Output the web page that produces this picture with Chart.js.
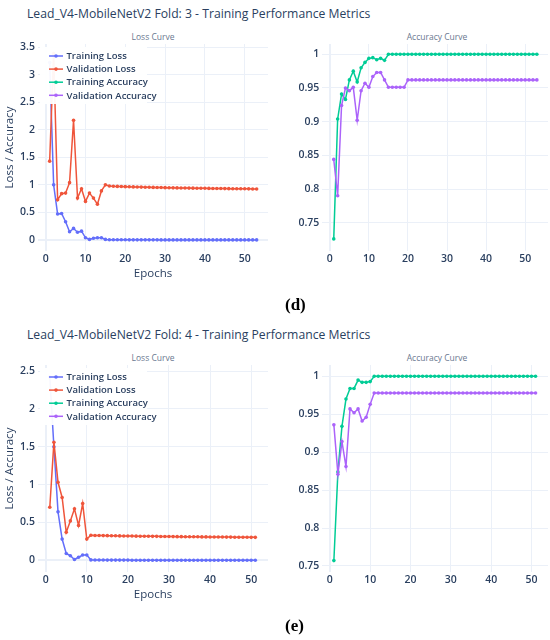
<!DOCTYPE html>
<html>
<head>
<meta charset="utf-8">
<script src="https://cdn.jsdelivr.net/npm/chart.js@4"></script>
<style>
html, body { margin: 0; padding: 0; background: #fff; overflow: hidden; width: 550px; height: 640px; }
.block { position: absolute; left: 0; width: 550px; height: 320px; }
.block canvas { position: absolute; top: 0; }
.title { position: absolute; left: 27px; top: 5px; font: 12.2px "Open Sans"; color: #2a3f5f; white-space: nowrap; line-height: 18px; }
.sub { position: absolute; top: 31px; font: 8.5px "Open Sans"; color: #6a7890; transform: translateX(-50%); line-height: 12px; white-space: nowrap; }
.tag { position: absolute; left: 285px; font: bold 17px "Liberation Serif"; color: #000; line-height: 20px; }
</style>
</head>
<body>
<div class="block" style="top:0">
  <div class="title">Lead_V4-MobileNetV2 Fold: 3 - Training Performance Metrics</div>
  <div class="sub" style="left:153px">Loss Curve</div>
  <div class="sub" style="left:437px">Accuracy Curve</div>
  <canvas id="loss3" width="275" height="300" style="left:0"></canvas>
  <canvas id="acc3" width="277" height="300" style="left:275px"></canvas>
  <div class="tag" style="top:295px">(d)</div>
</div>
<div class="block" style="top:321px">
  <div class="title">Lead_V4-MobileNetV2 Fold: 4 - Training Performance Metrics</div>
  <div class="sub" style="left:153px">Loss Curve</div>
  <div class="sub" style="left:437px">Accuracy Curve</div>
  <canvas id="loss4" width="275" height="300" style="left:0"></canvas>
  <canvas id="acc4" width="277" height="300" style="left:275px"></canvas>
  <div class="tag" style="top:295px">(e)</div>
</div>
<script>
// series names / colours shared by both folds
const seriesNames = ["Training Loss", "Validation Loss", "Training Accuracy", "Validation Accuracy"];
const seriesColors = ["#636efa", "#ef553b", "#00cc96", "#ab63fa"];

// Fold 3 (53 epochs)
const trainLoss3 = [
  3.22, 1.00, 0.47, 0.48, 0.33, 0.15, 0.21, 0.14, 0.16, 0.04,
  0.01, 0.03, 0.04, 0.04, 0.010, 0.005, 0.004, 0.003, 0.003, 0.003,
  0.002, 0.002, 0.002, 0.002, 0.002, 0.002, 0.002, 0.002, 0.001, 0.001,
  0.001, 0.001, 0.001, 0.001, 0.001, 0.001, 0.001, 0.001, 0.001, 0.001,
  0.001, 0.001, 0.001, 0.001, 0.001, 0.001, 0.001, 0.001, 0.001, 0.001,
  0.001, 0.001, 0.001
];
const valLoss3 = [
  1.43, 3.38, 0.73, 0.84, 0.85, 1.04, 2.17, 0.76, 0.93, 0.70,
  0.85, 0.76, 0.65, 0.89, 1.00, 0.980, 0.975, 0.972, 0.969, 0.967,
  0.965, 0.963, 0.961, 0.959, 0.957, 0.956, 0.954, 0.952, 0.951, 0.949,
  0.948, 0.946, 0.945, 0.944, 0.942, 0.941, 0.940, 0.939, 0.938, 0.937,
  0.936, 0.935, 0.934, 0.933, 0.932, 0.931, 0.930, 0.930, 0.929, 0.928,
  0.927, 0.926, 0.925
];
const trainAcc3 = [
  0.726, 0.904, 0.941, 0.933, 0.962, 0.975, 0.959, 0.980, 0.988, 0.994,
  0.995, 0.992, 0.994, 0.991, 1, 1, 1, 1, 1, 1,
  1, 1, 1, 1, 1, 1, 1, 1, 1, 1,
  1, 1, 1, 1, 1, 1, 1, 1, 1, 1,
  1, 1, 1, 1, 1, 1, 1, 1, 1, 1,
  1, 1, 1
];
const valAcc3 = [
  0.844, 0.790, 0.924, 0.950, 0.946, 0.951, 0.902, 0.946, 0.957, 0.951,
  0.967, 0.973, 0.973, 0.962, 0.951, 0.951, 0.951, 0.951, 0.951, 0.962,
  0.962, 0.962, 0.962, 0.962, 0.962, 0.962, 0.962, 0.962, 0.962, 0.962,
  0.962, 0.962, 0.962, 0.962, 0.962, 0.962, 0.962, 0.962, 0.962, 0.962,
  0.962, 0.962, 0.962, 0.962, 0.962, 0.962, 0.962, 0.962, 0.962, 0.962,
  0.962, 0.962, 0.962
];

// Fold 4 (51 epochs)
const trainLoss4 = [
  2.42, 1.50, 0.64, 0.28, 0.09, 0.06, 0.01, 0.04, 0.07, 0.07,
  0.005, 0.004, 0.003, 0.003, 0.002, 0.002, 0.002, 0.002, 0.002, 0.002,
  0.001, 0.001, 0.001, 0.001, 0.001, 0.001, 0.001, 0.001, 0.001, 0.001,
  0.001, 0.001, 0.001, 0.001, 0.001, 0.001, 0.001, 0.001, 0.001, 0.001,
  0.001, 0.001, 0.001, 0.001, 0.001, 0.001, 0.001, 0.001, 0.001, 0.001,
  0.001
];
const valLoss4 = [
  0.70, 1.56, 1.03, 0.83, 0.37, 0.52, 0.68, 0.46, 0.75, 0.28,
  0.330, 0.328, 0.327, 0.326, 0.325, 0.324, 0.323, 0.322, 0.321, 0.321,
  0.320, 0.319, 0.318, 0.318, 0.317, 0.316, 0.316, 0.315, 0.314, 0.314,
  0.313, 0.312, 0.312, 0.311, 0.311, 0.310, 0.310, 0.309, 0.309, 0.308,
  0.308, 0.307, 0.307, 0.306, 0.306, 0.305, 0.305, 0.304, 0.304, 0.303,
  0.303
];
const trainAcc4 = [
  0.757, 0.874, 0.934, 0.970, 0.984, 0.984, 0.995, 0.992, 0.992, 0.993,
  1, 1, 1, 1, 1, 1, 1, 1, 1, 1,
  1, 1, 1, 1, 1, 1, 1, 1, 1, 1,
  1, 1, 1, 1, 1, 1, 1, 1, 1, 1,
  1, 1, 1, 1, 1, 1, 1, 1, 1, 1,
  1
];
const valAcc4 = [
  0.936, 0.871, 0.914, 0.881, 0.957, 0.952, 0.957, 0.941, 0.946, 0.963,
  0.978, 0.978, 0.978, 0.978, 0.978, 0.978, 0.978, 0.978, 0.978, 0.978,
  0.978, 0.978, 0.978, 0.978, 0.978, 0.978, 0.978, 0.978, 0.978, 0.978,
  0.978, 0.978, 0.978, 0.978, 0.978, 0.978, 0.978, 0.978, 0.978, 0.978,
  0.978, 0.978, 0.978, 0.978, 0.978, 0.978, 0.978, 0.978, 0.978, 0.978,
  0.978
];

const epochs3 = trainLoss3.map((_, i) => i + 1);
const epochs4 = trainLoss4.map((_, i) => i + 1);

const textColor = "#2a3f5f";
const gridColor = "#ebf0f8";
const tickFont = { family: "'Open Sans'", size: 10.5, weight: "600" };

// plotly style legend drawn inside the loss plot
const innerLegend = {
  id: "innerLegend",
  afterDatasetsDraw(chart, args, opts) {
    if (!opts.show) return;
    const ctx = chart.ctx;
    const a = chart.chartArea;
    ctx.save();
    ctx.fillStyle = "rgba(255,255,255,0.95)";
    ctx.fillRect(a.left + 2, a.top + 3, 107, 57);
    ctx.font = "600 9.5px 'Open Sans'";
    ctx.textBaseline = "middle";
    seriesNames.forEach((name, i) => {
      const y = a.top + 12 + i * 13.1;
      ctx.strokeStyle = seriesColors[i];
      ctx.fillStyle = seriesColors[i];
      ctx.lineWidth = 1.5;
      ctx.beginPath();
      ctx.moveTo(a.left + 11, y);
      ctx.lineTo(a.left + 25, y);
      ctx.stroke();
      ctx.beginPath();
      ctx.arc(a.left + 18, y, 1.8, 0, Math.PI * 2);
      ctx.fill();
      ctx.fillStyle = textColor;
      ctx.fillText(name, a.left + 28.5, y + 0.5);
    });
    ctx.restore();
  }
};

function series(idx, epochs, values, order) {
  return {
    label: seriesNames[idx],
    data: values.map((v, i) => ({ x: epochs[i], y: v })),
    borderColor: seriesColors[idx],
    backgroundColor: seriesColors[idx],
    borderWidth: 1.5,
    pointRadius: 1.8,
    pointBorderWidth: 0,
    tension: 0,
    order: order
  };
}

function panel(id, datasets, xMin, xMax, yMin, yMax, yStep, isLoss) {
  return new Chart(document.getElementById(id), {
    type: "line",
    data: { datasets: datasets },
    options: {
      responsive: false,
      animation: false,
      events: [],
      layout: { padding: { top: 44, right: isLoss ? 7 : 0, bottom: 19, left: 0 } },
      plugins: {
        legend: { display: false },
        tooltip: { enabled: false },
        innerLegend: { show: isLoss }
      },
      scales: {
        x: {
          type: "linear",
          min: xMin,
          max: xMax,
          grid: { color: gridColor, drawTicks: false, lineWidth: c => (c.tick && c.tick.value === 0 ? 2 : 1) },
          border: { display: false },
          ticks: { stepSize: 10, includeBounds: false, padding: 2, color: textColor, font: tickFont, maxRotation: 0 },
          title: { display: isLoss, text: "Epochs", color: textColor, font: { family: "'Open Sans'", size: 11.5 }, padding: 0 },
          afterFit: s => { s.height = 30; }
        },
        y: {
          min: yMin,
          max: yMax,
          grid: { color: gridColor, drawTicks: false, lineWidth: c => (c.tick && c.tick.value === 0 ? 2 : 1) },
          border: { display: false },
          ticks: {
            stepSize: yStep, includeBounds: false, padding: 3, color: textColor, font: tickFont,
            callback: v => String(Math.round(v * 1000) / 1000)
          },
          title: { display: isLoss, text: "Loss / Accuracy", color: textColor, font: { family: "'Open Sans'", size: 11.5 }, padding: { top: 2.5, bottom: 0 } },
          afterFit: s => { s.width = isLoss ? 38 : 47.3; }
        }
      }
    },
    plugins: [innerLegend]
  });
}

panel("loss3", [series(0, epochs3, trainLoss3, 1), series(1, epochs3, valLoss3, 0)], -1.93, 55.85, -0.2, 3.555, 0.5, true);
panel("acc3", [series(2, epochs3, trainAcc3, 1), series(3, epochs3, valAcc3, 0)], -1.93, 55.85, 0.708, 1.0153, 0.05, false);
panel("loss4", [series(0, epochs4, trainLoss4, 1), series(1, epochs4, valLoss4, 0)], -1.87, 54.09, -0.155, 2.58, 0.5, true);
panel("acc4", [series(2, epochs4, trainAcc4, 1), series(3, epochs4, valAcc4, 0)], -1.87, 54.09, 0.742, 1.0149, 0.05, false);
</script>
</body>
</html>
